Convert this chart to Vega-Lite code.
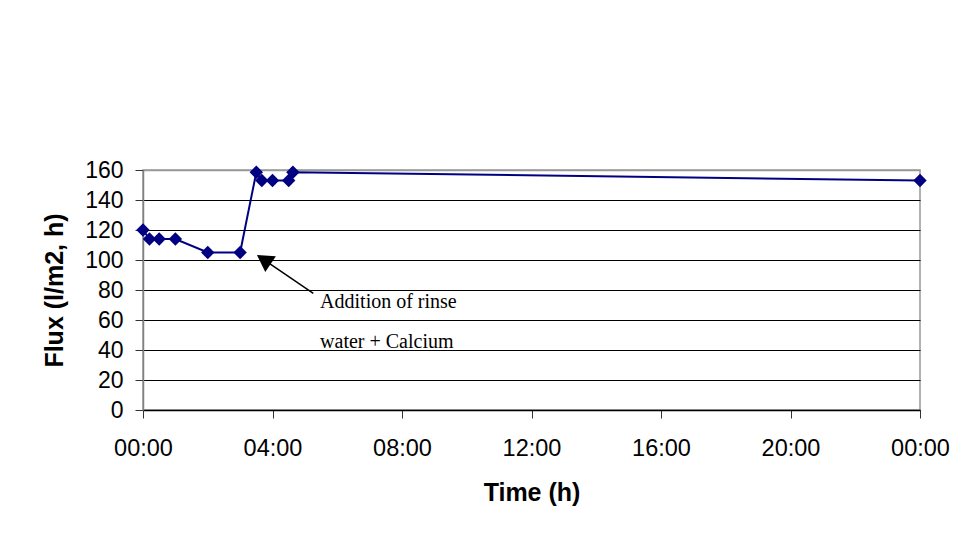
{
  "$schema": "https://vega.github.io/schema/vega-lite/v6.json",
  "width": 777,
  "height": 240,
  "autosize": {"type": "none"},
  "padding": {"left": 143, "top": 170, "right": 47, "bottom": 131},
  "background": "white",
  "config": {
    "view": {"stroke": "#999999", "strokeWidth": 1.5},
    "font": "Liberation Sans"
  },
  "encoding": {
    "x": {
      "field": "hours",
      "type": "quantitative",
      "scale": {"domain": [0, 24], "nice": false, "zero": false},
      "axis": {
        "title": "Time (h)",
        "values": [0, 4, 8, 12, 16, 20, 24],
        "labelExpr": "datum.value == 24 ? '00:00' : (datum.value < 10 ? '0' : '') + datum.value + ':00'",
        "labelFlush": false,
        "labelOverlap": false,
        "grid": false,
        "domainColor": "black",
        "domainWidth": 1.5,
        "tickColor": "#333333",
        "tickSize": 8,
        "labelPadding": 18,
        "labelFont": "Liberation Sans",
        "labelFontSize": 23.5,
        "labelColor": "black",
        "titleFont": "Liberation Sans",
        "titleFontSize": 25,
        "titleFontWeight": "bold",
        "titleColor": "black",
        "titleBaseline": "alphabetic",
        "titleY": 90
      }
    },
    "y": {
      "field": "flux",
      "type": "quantitative",
      "scale": {"domain": [0, 160], "nice": false},
      "axis": {
        "title": "Flux (l/m2, h)",
        "values": [0, 20, 40, 60, 80, 100, 120, 140, 160],
        "labelFlush": false,
        "labelOverlap": false,
        "grid": true,
        "gridColor": {"condition": {"test": "datum.value == 160", "value": "#999999"}, "value": "black"},
        "gridWidth": {"condition": {"test": "datum.value == 160", "value": 1.5}, "value": 1},
        "domainColor": "#808080",
        "domainWidth": 1.5,
        "tickColor": "#333333",
        "tickSize": 8,
        "labelPadding": 12,
        "labelFont": "Liberation Sans",
        "labelFontSize": 23,
        "labelColor": "black",
        "titleFont": "Liberation Sans",
        "titleFontSize": 25,
        "titleFontWeight": "bold",
        "titleColor": "black",
        "titleBaseline": "alphabetic",
        "titleX": -81
      }
    }
  },
  "layer": [
    {
      "data": {
        "values": [
          {"hours": 0, "flux": 120},
          {"hours": 0.2, "flux": 114},
          {"hours": 0.5, "flux": 114},
          {"hours": 1.0, "flux": 114},
          {"hours": 2.0, "flux": 105},
          {"hours": 3.0, "flux": 105},
          {"hours": 3.5, "flux": 158.5},
          {"hours": 3.67, "flux": 153},
          {"hours": 4.0, "flux": 153},
          {"hours": 4.5, "flux": 153},
          {"hours": 4.63, "flux": 158.5},
          {"hours": 24, "flux": 153}
        ]
      },
      "mark": {
        "type": "line",
        "color": "#000080",
        "strokeWidth": 2,
        "clip": false,
        "point": {"shape": "diamond", "size": 180, "filled": true, "fill": "#000080", "opacity": 1}
      }
    },
    {
      "data": {"values": [{"hours": 5.26, "flux": 77.8, "hours2": 3.73, "flux2": 100.3}]},
      "mark": {"type": "rule", "color": "black", "strokeWidth": 1.5},
      "encoding": {
        "x2": {"field": "hours2"},
        "y2": {"field": "flux2"}
      }
    },
    {
      "data": {"values": [{"hours": 3.73, "flux": 100.3}]},
      "mark": {"type": "point", "shape": "triangle-up", "size": 361, "angle": 304, "filled": true, "fill": "black", "opacity": 1}
    },
    {
      "data": {
        "values": [
          {"hours": 5.47, "flux": 68, "label": "Addition of rinse"},
          {"hours": 5.47, "flux": 41.1, "label": "water + Calcium"}
        ]
      },
      "mark": {"type": "text", "align": "left", "baseline": "alphabetic", "font": "Liberation Serif", "fontSize": 20, "color": "black"},
      "encoding": {"text": {"field": "label", "type": "nominal"}}
    }
  ]
}
